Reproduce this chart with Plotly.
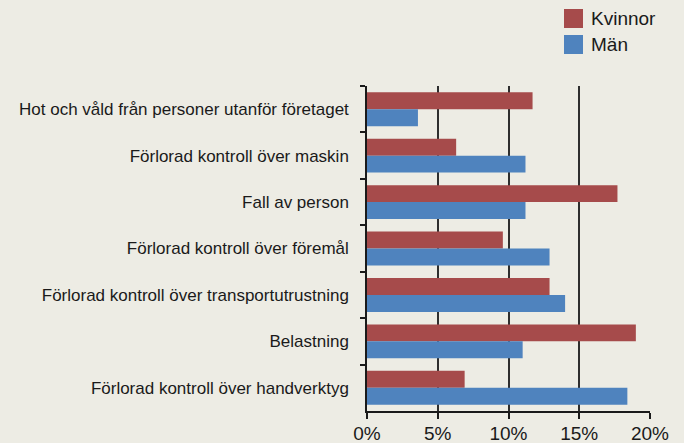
import plotly.graph_objects as go

categories = [
    "Hot och våld från personer utanför företaget",
    "Förlorad kontroll över maskin",
    "Fall av person",
    "Förlorad kontroll över föremål",
    "Förlorad kontroll över transportutrustning",
    "Belastning",
    "Förlorad kontroll över handverktyg",
]
kvinnor = [11.7, 6.3, 17.7, 9.6, 12.9, 19.0, 6.9]
man = [3.6, 11.2, 11.2, 12.9, 14.0, 11.0, 18.4]
series_names = ["Kvinnor", "Män"]
x_ticks = [0, 5, 10, 15, 20]
x_ticklabels = ["0%", "5%", "10%", "15%", "20%"]

RED = "#A64B4B"
BLUE = "#4F83BE"
BG = "#EDECE4"
FONT = "Liberation Sans, Arial, sans-serif"

fig = go.Figure()
fig.add_trace(go.Bar(y=categories, x=kvinnor, name=series_names[0], orientation="h",
                     marker=dict(color=RED, line=dict(width=0))))
fig.add_trace(go.Bar(y=categories, x=man, name=series_names[1], orientation="h",
                     marker=dict(color=BLUE, line=dict(width=0))))

L, R, T, B = 367, 34, 86, 32
W, H = 684, 443
pw, ph = W - L - R, H - T - B

def px_x(x):
    return (x - L) / pw

def px_y(y):
    return (H - B - y) / ph

shapes = []
annotations = []
legend_items = [(series_names[0], RED, 9), (series_names[1], BLUE, 35)]
for name, col, top in legend_items:
    shapes.append(dict(type="rect", xref="paper", yref="paper",
                       x0=px_x(564), x1=px_x(583), y0=px_y(top + 19), y1=px_y(top),
                       fillcolor=col, line=dict(width=0)))
    annotations.append(dict(xref="paper", yref="paper", x=px_x(589), y=px_y(top + 9.5),
                            xanchor="left", yanchor="middle", text=name, showarrow=False,
                            font=dict(family=FONT, size=19, color="#1a1a1a")))

fig.update_layout(
    width=W, height=H,
    margin=dict(l=L, r=R, t=T, b=B, pad=0),
    paper_bgcolor=BG, plot_bgcolor=BG,
    barmode="group", bargap=0.27, bargroupgap=0,
    showlegend=False,
    font=dict(family=FONT, color="#1a1a1a"),
    shapes=shapes, annotations=annotations,
    xaxis=dict(range=[0, 20], tickvals=x_ticks, ticktext=x_ticklabels,
               showgrid=True, gridcolor="#2e2e2e", gridwidth=1.5,
               showline=True, linecolor="#1a1a1a", linewidth=1.5,
               ticks="outside", ticklen=6, tickcolor="#1a1a1a", tickwidth=1.5,
               ticklabelstandoff=-2,
               tickfont=dict(size=19, family=FONT, color="#1a1a1a"),
               zeroline=False, fixedrange=True, automargin=False),
    yaxis=dict(autorange="reversed", showgrid=False,
               showline=True, linecolor="#1a1a1a", linewidth=1.5,
               ticks="outside", ticklen=5, tickcolor="#1a1a1a", tickwidth=1.5,
               tickson="boundaries", ticklabelstandoff=13,
               tickfont=dict(size=17, family=FONT, color="#1a1a1a"),
               fixedrange=True, automargin=False),
)

fig.write_html(
    "out.html",
    config={"displayModeBar": False},
    post_script="document.body.style.margin='0';document.body.style.overflow='hidden';"
                "document.body.style.background='" + BG + "';",
)
